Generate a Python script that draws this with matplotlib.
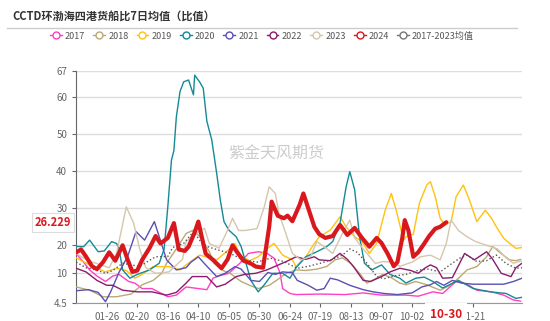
import numpy as np
import matplotlib
matplotlib.use('Agg')
import matplotlib.pyplot as plt
from matplotlib.lines import Line2D

plt.rcParams['font.family'] = ['Noto Sans CJK SC', 'DejaVu Sans']

# day index counted from Jan 1 (2024 calendar)
d2017 = [0, 6, 11, 17, 24, 30, 35, 43, 48, 54, 62, 75, 82, 90, 100, 107, 112, 118, 125, 134, 141, 149, 156, 162, 167, 169,
         175, 180, 200, 220, 235, 250, 270, 280, 292, 300, 311, 320, 328, 340, 350, 358, 364]
v2017 = [17, 14, 11.2, 9.5, 8.5, 9.5, 9.8, 8.5, 8.2, 7.2, 7.2, 5.7, 6, 7.5, 7.2, 7, 9.1, 9.6, 10, 13.6, 17.1, 17.7, 17.2, 15.4, 10, 7.2,
         6.3, 6.1, 6.2, 6.1, 6.4, 6.0, 6.0, 5.8, 6.6, 6.3, 8.5, 8.0, 6.9, 6.6, 6.0, 5.1, 4.9]

d2018 = [0, 11, 22, 33, 45, 54, 63, 70, 74, 82, 90, 96, 102, 109, 113, 120, 126, 135, 142, 149, 158, 164, 172, 180, 188, 197,
         205, 212, 218, 225, 232, 238, 245, 251, 258, 265, 270, 278, 287, 298, 306, 313, 320, 328, 336, 341, 348, 355, 360, 364]
v2018 = [7.5, 6.9, 5.7, 5.7, 6.2, 7.9, 8.7, 10, 13.6, 18.7, 23.2, 24.1, 22, 17.7, 13.6, 11, 10, 8.5, 7.8, 7.2, 7.8, 8.7, 10, 11.2, 11, 11.5,
         12.4, 14.8, 15.5, 13.5, 10, 8.2, 9, 9.8, 9.2, 8.2, 7.9, 8.5, 7.9, 6.9, 7.8, 9.1, 11.2, 12.4, 15.9, 19.6, 17, 14.8, 14.5, 15]

d2019 = [0, 11, 24, 33, 41, 48, 54, 63, 76, 85, 90, 101, 115, 123, 130, 134, 142, 149, 156, 162, 169, 177, 180, 188, 194, 199,
         208, 216, 221, 228, 234, 240, 246, 253, 258, 262, 268, 270, 276, 281, 287, 290, 294, 298, 302, 307, 311, 317, 322, 328,
         335, 340, 344, 350, 355, 360, 365]
v2019 = [15.5, 13, 10.5, 11.8, 11, 9.1, 9.8, 12.4, 12.4, 11.2, 13, 16.5, 14.8, 17.7, 20.5, 16.5, 14.5, 15.9, 18.7, 20.5, 16.5, 14.8, 12.4, 15.9, 20, 22.3,
         24.1, 27.7, 25, 22.3, 21, 17.1, 20.5, 29.5, 34, 29.5, 21.4, 22.3, 23, 31.4, 36.3, 37.2, 33.1, 27.3, 25.5, 26.4, 33.1, 36.3, 32.2, 26.4,
         29.5, 27.3, 25, 21.9, 20.5, 18.9, 19.2]

d2020 = [0, 6, 11, 18, 23, 29, 33, 35, 38, 44, 50, 60, 68, 72, 75, 78, 80, 82, 85, 88, 92, 94, 96, 97, 101, 104, 107, 111, 115, 118,
         121, 125, 131, 135, 139, 143, 149, 154, 161, 169, 175, 180, 188, 197, 205, 210, 216, 221, 224, 228, 232, 236, 242, 250,
         257, 265, 270, 278, 285, 292, 300, 313, 325, 339, 352, 360, 365]
v2020 = [19.6, 19.5, 21.4, 17.7, 18, 21, 20.5, 19, 11.2, 9.1, 9.8, 11.2, 13.6, 18.7, 30.4, 43, 45.6, 54.6, 61.4, 64, 64.5, 62.5, 60.5, 65.8, 64, 62.3, 53.4, 48.4, 39.5, 32.2,
         26.4, 24.1, 22.3, 19.6, 13.6, 8.7, 6.6, 7.9, 10, 10, 9.1, 12, 15.9, 17.7, 19.5, 21, 26, 35.8, 39.9, 35, 22.3, 13.6, 11.2, 13.0,
         9.8, 9.1, 8.2, 9.1, 9.3, 8.5, 7.3, 8.7, 7.2, 6.6, 6.3, 5.4, 5.6]

d2021 = [0, 10, 18, 24, 28, 35, 42, 49, 56, 64, 68, 74, 82, 90, 94, 100, 106, 115, 122, 130, 135, 143, 150, 157, 163, 169, 177,
         181, 190, 197, 203, 208, 214, 224, 235, 243, 252, 263, 275, 283, 290, 295, 301, 308, 316, 325, 337, 350, 358, 365]
v2021 = [6.8, 7.0, 6.5, 4.8, 6.5, 10.3, 15.9, 23.7, 21.4, 26.4, 22.3, 14.8, 11.2, 12, 14, 15.9, 13, 9.4, 10, 12.4, 11.5, 8.7, 8.5, 10.3, 9.8, 10.5, 10.2,
         8.7, 7.8, 6.9, 7.2, 9.1, 8.8, 7.8, 7.0, 6.6, 6.3, 6.1, 6.4, 7.5, 7.9, 8.5, 7.8, 8.7, 8.2, 8.0, 8.0, 8.0, 8.5, 9.1]

d2022 = [0, 8, 17, 25, 30, 38, 50, 62, 74, 82, 90, 95, 107, 115, 122, 131, 138, 147, 156, 163, 172, 180, 188, 195, 199, 208,
         216, 222, 227, 235, 241, 250, 257, 265, 274, 280, 286, 290, 295, 300, 308, 318, 326, 336, 341, 348, 356, 360, 365]
v2022 = [11.8, 10.5, 8.7, 7.8, 7.8, 6.9, 6.6, 6.6, 6.0, 6.5, 8.2, 9.4, 9.4, 7.5, 8, 9.4, 9.8, 10, 11.2, 12.5, 14.2, 15.9, 15, 15.9, 14.8, 14.5,
         17.1, 15, 12.4, 8.7, 8.5, 9.4, 10.5, 11.8, 11, 10, 12, 13, 12, 9.1, 9.2, 17.1, 14.8, 17.7, 15, 10, 9.4, 12, 13.6]

d2023 = [0, 10, 20, 27, 33, 41, 47, 52, 57, 65, 76, 87, 90, 98, 105, 109, 117, 124, 128, 133, 138, 148, 154, 158, 163, 166, 172,
         177, 184, 192, 197, 203, 210, 218, 224, 228, 235, 245, 251, 258, 265, 275, 282, 290, 298, 303, 307, 313, 320, 327, 336,
         345, 352, 358, 365]
v2023 = [17, 14.5, 13, 12, 17, 30.4, 26, 18.7, 12, 10, 10.5, 15, 21, 23.2, 24.6, 20.5, 19, 24.1, 27.3, 24, 24, 24.5, 30.4, 35.8, 34, 28.6, 22.8,
         17.1, 14.8, 16, 21, 19.5, 17.1, 23.2, 26.8, 22, 18.7, 13.5, 14.2, 14, 12.5, 14, 15.9, 16.5, 14.8, 20.5, 26.8, 24, 22.3, 21, 20,
         18.7, 15.5, 13.6, 14.5]

d2024 = [0, 4, 8, 13, 17, 22, 27, 32, 38, 42, 46, 50, 54, 60, 65, 69, 75, 80, 84, 89, 92, 97, 100, 103, 106, 112, 119, 124, 128,
         131, 137, 143, 147, 153, 158, 160, 165, 170, 173, 177, 183, 186, 190, 195, 199, 204, 210, 216, 222, 228, 234, 240, 246,
         250, 255, 260, 263, 267, 269, 272, 276, 280, 284, 289, 294, 298, 303]
v2024 = [17.5, 18.5, 16, 12.5, 11.5, 14, 17.5, 14.5, 20, 15, 10.5, 11, 14.8, 19, 22.5, 20.5, 22, 26, 18.5, 18, 19.5, 23.5, 26.4, 22, 17, 14.8, 11.8, 15, 20,
         18, 14.5, 13.5, 12.4, 12.0, 25, 31.8, 28, 27.3, 28, 26.5, 31, 34, 30, 25, 23, 22, 22.5, 25.5, 22.8, 24.7, 22, 19.5, 22,
         20.6, 17, 12.5, 14, 22, 26.8, 24, 15.9, 17.5, 20, 22.5, 24.5, 25, 26.229]

d_avg = [0, 8, 16, 24, 30, 38, 45, 52, 65, 75, 79, 88, 96, 103, 107, 115, 126, 137, 148, 159, 170, 181, 190, 200, 210, 218, 224,
         230, 238, 246, 252, 260, 270, 281, 288, 298, 306, 314, 320, 328, 336, 344, 352, 360, 365]
v_avg = [14, 12, 11.2, 10, 11, 13.6, 13, 12.5, 15.9, 16, 19.2, 20.5, 23.7, 20.5, 19.6, 18.5, 17.1, 14.8, 14, 15.4, 14.2, 11.8, 12.5, 13.6, 15, 16.5, 18.7,
         17.5, 13.6, 9.4, 9.0, 9.5, 9.8, 11.2, 11.5, 10.5, 13, 15.4, 16.5, 14.2, 14.5, 16.5, 13.5, 11.8, 12]

y_ticks = [4.5, 10, 20, 30, 40, 50, 60, 67]
y_pos = [0, 30, 58, 95, 132, 169.3, 206.6, 232.6]
x_ticks = [25, 50, 75, 100, 125, 150, 175, 200, 225, 250, 275, 300, 325]
x_labels = ['01-26', '02-20', '03-16', '04-10', '05-05', '05-30', '06-24', '07-19', '08-13', '09-07', '10-02', '', '11-21']

series = [
    ('2017', d2017, v2017, '#ff3fc4', 1.0, '-'),
    ('2018', d2018, v2018, '#bba975', 1.0, '-'),
    ('2019', d2019, v2019, '#ffc20e', 1.0, '-'),
    ('2020', d2020, v2020, '#138a95', 1.0, '-'),
    ('2021', d2021, v2021, '#5a4fb3', 1.0, '-'),
    ('2022', d2022, v2022, '#8b1c6c', 1.0, '-'),
    ('2023', d2023, v2023, '#d6c6ad', 1.0, '-'),
    ('2024', d2024, v2024, '#d9181e', 3.0, '-'),
    ('2017-2023均值', d_avg, v_avg, '#555555', 1.0, ':'),
]


def fwd(v):
    v = np.asarray(v, dtype=float)
    return np.interp(v, y_ticks, y_pos, left=-1, right=250)


def inv(p):
    p = np.asarray(p, dtype=float)
    return np.interp(p, y_pos, y_ticks)


fig = plt.figure(figsize=(5.5, 3.21), dpi=100)
ax = fig.add_axes([76.2 / 550, 1 - 303.3 / 321, (522 - 76.2) / 550, (303.3 - 70.7) / 321])
ax.set_yscale('function', functions=(fwd, inv))

for name, d, v, c, lw, ls in series:
    z = 5 if name == '2024' else 3
    ax.plot(d, v, color=c, lw=lw, ls=ls, zorder=z, solid_joinstyle='round', solid_capstyle='round')

ax.set_xlim(0, 365)
ax.set_ylim(4.5, 67)
ax.set_yticks(y_ticks)
ax.set_yticklabels(['4.5', '10', '20', '30', '40', '50', '60', '67'])
ax.set_xticks(x_ticks)
ax.set_xticklabels(x_labels)
ax.yaxis.grid(True, color='#dddddd', lw=1)
ax.set_axisbelow(True)
ax.tick_params(axis='both', labelsize=7, colors='#666666', length=3, width=0.8)
for s in ['top', 'right']:
    ax.spines[s].set_visible(False)
ax.spines['left'].set_color('#666666')
ax.spines['bottom'].set_color('#999999')

# highlighted last value and date
ax.text(-0.012, 26.229, '26.229', transform=ax.get_yaxis_transform(), ha='right', va='center',
        fontsize=8, color='#d9181e', fontweight='bold',
        bbox=dict(boxstyle='square,pad=0.25', fc='white', ec='#dddddd', lw=0.8), zorder=10)
ax.text(303, -0.02, '10-30', transform=ax.get_xaxis_transform(), ha='center', va='top',
        fontsize=8.5, color='#d9181e', fontweight='bold',
        bbox=dict(boxstyle='square,pad=0.4', fc='white', ec='none'), zorder=10, clip_on=False)

# watermark
fig.text(276 / 550, 1 - 154 / 321, '紫金天风期货', ha='center', va='center', fontsize=11.5, color='#cccccc')

# title and divider
fig.text(12 / 550, 1 - 16 / 321, 'CCTD环渤海四港货船比7日均值（比值）', ha='left', va='center',
         fontsize=8, fontweight='bold', color='#333333')
fig.add_artist(Line2D([7 / 550, 517 / 550], [1 - 28 / 321] * 2, color='#cccccc', lw=1))

handles = [Line2D([], [], color=c, lw=1, ls='-', marker='o', markersize=5, markerfacecolor='white',
                  markeredgecolor=c if n != '2017-2023均值' else '#777777')
           for n, d, v, c, lw, ls in series]
handles[-1].set_color('#777777')
fig.legend(handles, [s[0] for s in series], loc='center', bbox_to_anchor=(262 / 550, 1 - 36 / 321), ncol=9,
           frameon=False, fontsize=6.5, handlelength=1.3, handletextpad=0.35, columnspacing=0.9,
           labelcolor='#555555')

fig.savefig('out.png', dpi=100)
